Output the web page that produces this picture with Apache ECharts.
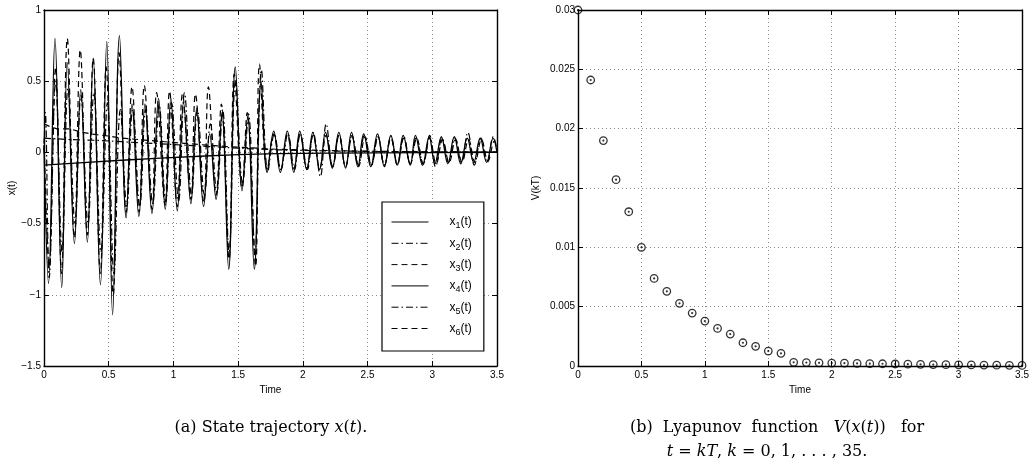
<!DOCTYPE html>
<html>
<head>
<meta charset="utf-8">
<script src="https://cdn.jsdelivr.net/npm/echarts@6/dist/echarts.min.js"></script>
<style>
html,body{margin:0;padding:0;background:#fff;}
#c{width:1032px;height:463px;}
</style>
</head>
<body>
<div id="c"></div>
<script>
// ---- Data ----
const seriesNames = ['x1', 'x2', 'x3', 'x4', 'x5', 'x6'];
const xTicks = [0, 0.5, 1, 1.5, 2, 2.5, 3, 3.5];

// x1: slow solid line
const x1 = [[0,-0.09],[0.3,-0.072],[0.6,-0.055],[0.9,-0.04],[1.2,-0.027],[1.5,-0.016],[1.8,-0.009],[2.2,-0.005],[2.6,-0.003],[3,-0.001],[3.5,0.001]];

// x2: dash-dot oscillation
const x2 = [[0,0.0],[0.01,0.28],[0.04,-0.88],[0.09,0.5],[0.14,-0.7],[0.185,0.45],[0.24,-0.5],[0.285,0.4],[0.34,-0.5],[0.385,0.42],[0.44,-0.7],[0.49,0.35],[0.54,-0.85],[0.59,0.3],[0.64,-0.38],[0.685,0.3],[0.74,-0.38],[0.785,0.3],[0.84,-0.36],[0.89,0.33],[0.94,-0.35],[0.985,0.35],[1.04,-0.34],[1.085,0.42],[1.14,-0.3],[1.185,0.3],[1.24,-0.3],[1.285,0.2],[1.335,-0.28],[1.38,0.3],[1.43,-0.7],[1.48,0.5],[1.535,-0.22],[1.58,0.27],[1.63,-0.72],[1.68,0.58],[1.73,-0.13],[1.78,0.13],[1.83,-0.12],[1.885,0.13],[1.935,-0.12],[1.98,0.13],[2.035,-0.12],[2.08,0.14],[2.135,-0.17],[2.18,0.2],[2.23,-0.1],[2.28,0.12],[2.33,-0.1],[2.38,0.12],[2.43,-0.09],[2.475,0.12],[2.53,-0.09],[2.58,0.11],[2.63,-0.09],[2.68,0.11],[2.73,-0.08],[2.78,0.11],[2.83,-0.08],[2.875,0.1],[2.93,-0.08],[2.98,0.12],[3.025,-0.1],[3.075,0.1],[3.125,-0.07],[3.175,0.1],[3.225,-0.07],[3.275,0.14],[3.325,-0.09],[3.375,0.1],[3.425,-0.07],[3.47,0.11],[3.5,0.02]];

// x3: dashed slow decay from 0.2
const x3 = [[0,0.2],[0.05,0.18],[0.1,0.165],[0.2,0.165],[0.3,0.14],[0.4,0.125],[0.5,0.115],[0.6,0.1],[0.8,0.085],[1.0,0.07],[1.2,0.055],[1.4,0.042],[1.6,0.032],[1.8,0.022],[2.2,0.013],[2.6,0.007],[3,0.004],[3.5,0.002]];

// x4: solid oscillation (large spikes)
const x4 = [[0,0.05],[0.035,-0.92],[0.085,0.8],[0.137,-0.95],[0.18,0.63],[0.235,-0.64],[0.284,0.44],[0.335,-0.63],[0.38,0.66],[0.436,-0.93],[0.485,0.78],[0.53,-1.14],[0.583,0.82],[0.635,-0.46],[0.68,0.34],[0.733,-0.45],[0.78,0.34],[0.834,-0.43],[0.885,0.38],[0.937,-0.4],[0.98,0.38],[1.03,-0.41],[1.078,0.35],[1.135,-0.36],[1.18,0.31],[1.233,-0.38],[1.28,0.13],[1.33,-0.33],[1.375,0.28],[1.427,-0.82],[1.478,0.6],[1.53,-0.27],[1.574,0.25],[1.625,-0.82],[1.677,0.5],[1.724,-0.14],[1.775,0.15],[1.826,-0.14],[1.88,0.15],[1.93,-0.14],[1.976,0.15],[2.03,-0.12],[2.077,0.14],[2.13,-0.12],[2.175,0.14],[2.228,-0.11],[2.278,0.14],[2.33,-0.11],[2.376,0.14],[2.425,-0.1],[2.47,0.13],[2.525,-0.1],[2.577,0.13],[2.63,-0.1],[2.68,0.12],[2.73,-0.09],[2.775,0.12],[2.83,-0.09],[2.87,0.12],[2.925,-0.09],[2.976,0.11],[3.02,-0.08],[3.07,0.11],[3.12,-0.08],[3.17,0.11],[3.22,-0.08],[3.27,0.1],[3.32,-0.07],[3.37,0.1],[3.42,-0.07],[3.47,0.1],[3.5,0.0]];

// x5: dash-dot slow decay from 0.1
const x5 = [[0,0.1],[0.1,0.095],[0.2,0.09],[0.4,0.085],[0.6,0.075],[0.8,0.065],[1.0,0.055],[1.2,0.045],[1.4,0.035],[1.6,0.025],[1.8,0.018],[2.2,0.01],[2.6,0.006],[3,0.004],[3.5,0.002]];

// x6: dashed oscillation
const x6 = [[0,0.1],[0.04,-0.8],[0.09,0.6],[0.135,-0.85],[0.18,0.8],[0.235,-0.6],[0.28,0.72],[0.335,-0.58],[0.38,0.66],[0.435,-0.85],[0.48,0.6],[0.535,-1.0],[0.58,0.7],[0.635,-0.42],[0.68,0.46],[0.735,-0.42],[0.775,0.47],[0.835,-0.4],[0.87,0.42],[0.935,-0.37],[0.97,0.43],[1.03,-0.38],[1.07,0.41],[1.135,-0.33],[1.17,0.41],[1.235,-0.35],[1.27,0.46],[1.33,-0.3],[1.37,0.34],[1.43,-0.75],[1.47,0.55],[1.53,-0.25],[1.57,0.28],[1.635,-0.8],[1.665,0.62],[1.725,-0.12],[1.775,0.13],[1.83,-0.12],[1.88,0.13],[1.93,-0.11],[1.98,0.13],[2.03,-0.11],[2.08,0.12],[2.13,-0.11],[2.18,0.12],[2.23,-0.1],[2.28,0.12],[2.33,-0.1],[2.38,0.11],[2.43,-0.1],[2.48,0.11],[2.53,-0.09],[2.58,0.11],[2.63,-0.09],[2.68,0.1],[2.73,-0.09],[2.78,0.1],[2.83,-0.08],[2.88,0.1],[2.93,-0.08],[2.98,0.1],[3.03,-0.08],[3.08,0.09],[3.13,-0.07],[3.18,0.09],[3.23,-0.07],[3.28,0.09],[3.33,-0.07],[3.38,0.09],[3.43,-0.06],[3.48,0.08],[3.5,0.02]];

// Lyapunov function samples, t = kT, k = 0..35
const vTime = [0,0.1,0.2,0.3,0.4,0.5,0.6,0.7,0.8,0.9,1.0,1.1,1.2,1.3,1.4,1.5,1.6,1.7,1.8,1.9,2.0,2.1,2.2,2.3,2.4,2.5,2.6,2.7,2.8,2.9,3.0,3.1,3.2,3.3,3.4,3.5];
const vValue = [0.0300,0.0241,0.0190,0.0157,0.0130,0.0100,0.00738,0.00629,0.00528,0.00446,0.00379,0.00317,0.00269,0.00196,0.00166,0.00126,0.00107,0.00031,0.00029,0.00027,0.00025,0.00024,0.00022,0.00020,0.00019,0.00017,0.00015,0.00014,0.00012,0.00011,0.00010,0.00009,0.00008,0.00007,0.00006,0.00005];

// ---- Chart ----
const FONT = '"Liberation Sans", Arial, sans-serif';
const SERIF = '"DejaVu Serif", "Liberation Serif", serif';
const DASH = [6, 4];
const DASHDOT = [7, 3, 1.5, 3];
const styles = {
  x1: {type: 'solid', width: 1.3},
  x2: {type: DASHDOT, width: 1.2},
  x3: {type: DASH, width: 1.2},
  x4: {type: 'solid', width: 1.3},
  x5: {type: DASHDOT, width: 1.2},
  x6: {type: DASH, width: 1.2}
};
const dataMap = {x1, x2, x3, x4, x5, x6};
const smoothMap = {x1: false, x2: 0.4, x3: false, x4: 0.4, x5: false, x6: 0.4};

function minusFmt(v) {
  if (v < 0) return '\u2212' + String(Math.abs(v));
  return String(v);
}

const gridLine = {show: true, lineStyle: {color: '#8a8a8a', type: [1, 3], width: 1}};
const axLine = {show: true, onZero: false, lineStyle: {color: '#000', width: 1.4}};
const tick = {show: true, inside: true, length: 5, lineStyle: {color: '#000', width: 1}};
const lbl = {color: '#000', fontSize: 10, fontFamily: FONT};

function xAxes(grid, name) {
  return [
    {gridIndex: grid, type: 'value', min: 0, max: 3.5, interval: 0.5, position: 'bottom',
     axisLine: axLine, axisTick: tick, splitLine: gridLine,
     axisLabel: Object.assign({margin: 4, formatter: minusFmt}, lbl),
     name: name, nameLocation: 'middle', nameGap: 17,
     nameTextStyle: {color: '#000', fontSize: 10, fontFamily: FONT}},
    {gridIndex: grid, type: 'value', min: 0, max: 3.5, interval: 0.5, position: 'top',
     axisLine: axLine, axisTick: tick, splitLine: {show: false}, axisLabel: {show: false}}
  ];
}
function yAxes(grid, min, max, interval, name, gap, fmt) {
  return [
    {gridIndex: grid, type: 'value', min: min, max: max, interval: interval, position: 'left',
     axisLine: axLine, axisTick: tick, splitLine: gridLine,
     axisLabel: Object.assign({margin: 3, formatter: fmt}, lbl),
     name: name, nameLocation: 'middle', nameGap: gap, nameRotate: 90,
     nameTextStyle: {color: '#000', fontSize: 10, fontFamily: FONT}},
    {gridIndex: grid, type: 'value', min: min, max: max, interval: interval, position: 'right',
     axisLine: axLine, axisTick: tick, splitLine: {show: false}, axisLabel: {show: false}}
  ];
}

function draw() {
  const chart = echarts.init(document.getElementById('c'), null, {renderer: 'canvas'});
  const series = seriesNames.map(n => ({
    name: n, type: 'line', xAxisIndex: 0, yAxisIndex: 0,
    data: dataMap[n], showSymbol: false, symbol: 'none',
    smooth: smoothMap[n],
    lineStyle: Object.assign({color: '#000'}, styles[n]),
    itemStyle: {color: '#000'},
    animation: false, silent: true
  }));

  series.push({
    name: 'V', type: 'scatter', xAxisIndex: 2, yAxisIndex: 2,
    data: vTime.map((t, i) => [t, vValue[i]]),
    symbol: 'circle', symbolSize: 7.5, clip: false,
    itemStyle: {color: 'rgba(0,0,0,0)', borderColor: '#000', borderWidth: 1.3},
    animation: false, silent: true
  });
  series.push({
    name: 'Vdot', type: 'scatter', xAxisIndex: 2, yAxisIndex: 2,
    data: vTime.map((t, i) => [t, vValue[i]]),
    symbol: 'circle', symbolSize: 2.2, clip: false,
    itemStyle: {color: '#000'},
    animation: false, silent: true
  });

  const option = {
    backgroundColor: '#fff',
    animation: false,
    grid: [
      {left: 44, top: 10, width: 453, height: 356},
      {left: 578, top: 10, width: 452, height: 356}
    ],
    xAxis: [].concat(xAxes(0, 'Time'), xAxes(1, 'Time')),
    yAxis: [].concat(
      yAxes(0, -1.5, 1, 0.5, 'x(t)', 27, minusFmt),
      yAxes(1, 0, 0.03, 0.005, 'V(kT)', 37, null)
    ),
    legend: {
      data: seriesNames,
      orient: 'vertical',
      left: 382, top: 202,
      padding: [14, 12, 14, 9],
      itemWidth: 37, itemHeight: 14, itemGap: 6.8,
      borderColor: '#000', borderWidth: 1.2, borderRadius: 0,
      backgroundColor: '#fff',
      selectedMode: false,
      itemStyle: {opacity: 0},
      lineStyle: {width: 1},
      formatter: function (name) { return '{g|}x{s|' + name.slice(1) + '}(t)'; },
      textStyle: {
        color: '#000', fontSize: 12, fontFamily: FONT,
        rich: {
          g: {width: 16},
          s: {fontSize: 9, fontFamily: FONT, padding: [8, 0, 0, 0], color: '#000'}
        }
      }
    },
    graphic: [
      {type: 'text', x: 271, y: 428,
       style: {text: '(a) State trajectory {i|x}({i|t}).', align: 'center', verticalAlign: 'middle',
         fill: '#000', font: '16px ' + SERIF,
         rich: {i: {fontStyle: 'italic', fontSize: 16, fontFamily: SERIF}}}},
      {type: 'text', x: 777, y: 428,
       style: {text: '(b)  Lyapunov  function   {i|V}({i|x}({i|t}))   for', align: 'center', verticalAlign: 'middle',
         fill: '#000', font: '16px ' + SERIF,
         rich: {i: {fontStyle: 'italic', fontSize: 16, fontFamily: SERIF}}}},
      {type: 'text', x: 767, y: 452,
       style: {text: '{i|t} = {i|kT}, {i|k} = 0, 1, . . . , 35.', align: 'center', verticalAlign: 'middle',
         fill: '#000', font: '16px ' + SERIF,
         rich: {i: {fontStyle: 'italic', fontSize: 16, fontFamily: SERIF}}}}
    ],
    series: series
  };
  chart.setOption(option);
}

let drawn = false;
function go() { if (!drawn) { drawn = true; draw(); } }
if (document.fonts && document.fonts.load) {
  Promise.all([
    document.fonts.load('10px "Liberation Sans"'),
    document.fonts.load('12px "Liberation Sans"'),
    document.fonts.load('16px "DejaVu Serif"'),
    document.fonts.load('italic 16px "DejaVu Serif"')
  ]).then(go, go);
  setTimeout(go, 1500);
} else {
  go();
}
</script>
</body>
</html>
